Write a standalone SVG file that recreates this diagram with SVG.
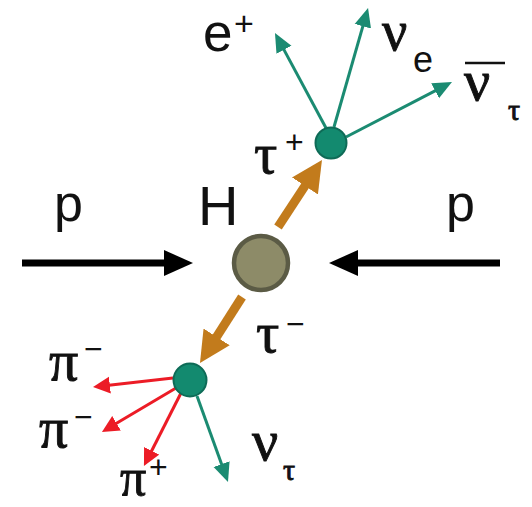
<svg xmlns="http://www.w3.org/2000/svg" width="532" height="507" viewBox="0 0 532 507">
<style>
.sans{font-family:"Liberation Sans",Arial,sans-serif;fill:#111}
.greek{font-family:"Liberation Serif","Times New Roman",serif;fill:#111;stroke:#111;stroke-width:0.9}
.teal{stroke:#1b8b72;stroke-width:3;fill:none}
.red{stroke:#ec1c26;stroke-width:3;fill:none}
.orange{stroke:#c27b1c;stroke-width:9;fill:none}
.black{stroke:#000;stroke-width:7;fill:none}
</style>
<defs>
<marker id="mTeal" markerUnits="userSpaceOnUse" viewBox="0 -9 19 18" markerWidth="19" markerHeight="18" refX="1" refY="0" orient="auto"><path d="M0,-8.5 L19,0 L0,8.5 z" fill="#1b8b72"/></marker>
<marker id="mRed" markerUnits="userSpaceOnUse" viewBox="0 -9 17 18" markerWidth="17" markerHeight="18" refX="1" refY="0" orient="auto"><path d="M0,-8.5 L17,0 L0,8.5 z" fill="#ec1c26"/></marker>
<marker id="mOrange" markerUnits="userSpaceOnUse" viewBox="0 -16 31 32" markerWidth="31" markerHeight="32" refX="1" refY="0" orient="auto"><path d="M0,-15.5 L31,0 L0,15.5 z" fill="#c27b1c"/></marker>
<marker id="mBlack" markerUnits="userSpaceOnUse" viewBox="0 -14 29 28" markerWidth="29" markerHeight="28" refX="1" refY="0" orient="auto"><path d="M0,-13 L29,0 L0,13 z" fill="#000"/></marker>
</defs>
<g id="connectors">
<line class="black" x1="22" y1="263" x2="165" y2="263" marker-end="url(#mBlack)"/>
<line class="black" x1="500" y1="263" x2="357" y2="263" marker-end="url(#mBlack)"/>
<line class="orange" x1="278" y1="227" x2="305.5" y2="185.1" marker-end="url(#mOrange)"/>
<line class="orange" x1="242" y1="297" x2="216.1" y2="337.7" marker-end="url(#mOrange)"/>
<line class="teal" x1="326" y1="128" x2="283.5" y2="48.9" marker-end="url(#mTeal)"/>
<line class="teal" x1="334" y1="127" x2="363.1" y2="25.3" marker-end="url(#mTeal)"/>
<line class="teal" x1="346" y1="137" x2="436" y2="90.3" marker-end="url(#mTeal)"/>
<line class="teal" x1="197" y1="396" x2="221.9" y2="465.1" marker-end="url(#mTeal)"/>
<line class="red" x1="173" y1="378" x2="108.9" y2="385.2" marker-end="url(#mRed)"/>
<line class="red" x1="176" y1="388" x2="115.7" y2="423.8" marker-end="url(#mRed)"/>
<line class="red" x1="181" y1="393" x2="151.2" y2="451.7" marker-end="url(#mRed)"/>
</g>
<g id="higgs">
<circle cx="261" cy="263" r="27" fill="#8d8b68" stroke="#5b5b45" stroke-width="4.5"/>
<text class="sans" x="198" y="225" font-size="56">H</text>
</g>
<g id="tau-plus-vertex">
<circle cx="331" cy="143" r="15.5" fill="#138a6f" stroke="#0e6b57" stroke-width="2"/>
</g>
<g id="tau-minus-vertex">
<circle cx="190" cy="380" r="16.5" fill="#138a6f" stroke="#0e6b57" stroke-width="2"/>
</g>
<g id="labels">
<text class="sans" x="54" y="221" font-size="52">p</text>
<text class="sans" x="446" y="221" font-size="52">p</text>
<text class="sans" x="203" y="51" font-size="53">e</text>
<text class="sans" x="234" y="35" font-size="34">+</text>
<text class="greek" x="382" y="50" font-size="56">ν</text>
<text class="sans" x="413" y="72" font-size="36">e</text>
<text class="greek" x="464" y="100" font-size="58">ν</text>
<line x1="465" y1="63" x2="505" y2="63" stroke="#111" stroke-width="2.5"/>
<text class="greek" x="508" y="120" font-size="30">τ</text>
<text class="greek" x="254" y="173" font-size="58">τ</text>
<text class="sans" x="285" y="153" font-size="32">+</text>
<text class="greek" x="256" y="352" font-size="58">τ</text>
<text class="sans" x="286" y="335" font-size="32">−</text>
<text class="greek" x="49" y="380" font-size="58">π</text>
<text class="sans" x="84" y="360" font-size="32">−</text>
<text class="greek" x="39" y="447" font-size="58">π</text>
<text class="sans" x="74" y="428" font-size="32">−</text>
<text class="greek" x="120" y="495" font-size="52">π</text>
<text class="sans" x="149" y="478" font-size="32">+</text>
<text class="greek" x="252" y="460" font-size="58">ν</text>
<text class="greek" x="283" y="480" font-size="30">τ</text>
</g>
</svg>
